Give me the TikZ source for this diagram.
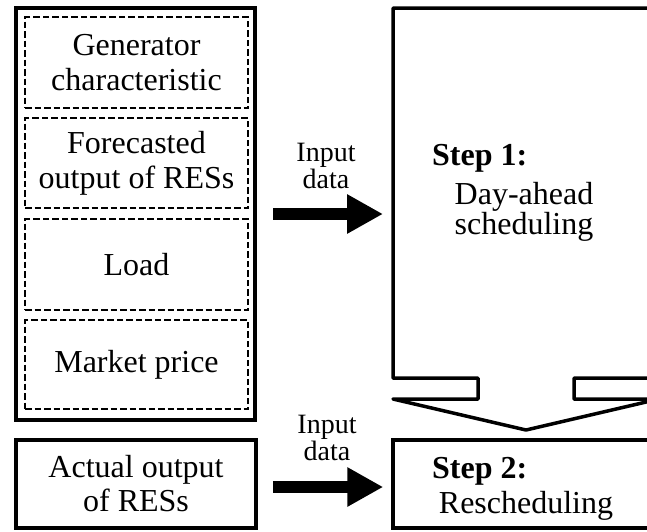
\documentclass[tikz,border=0pt]{standalone}
\usepackage{fontspec}
\setmainfont{Liberation Serif}
\usepackage{tikz}
\usetikzlibrary{arrows.meta}

\begin{document}
\begin{tikzpicture}[x=1pt,y=-1pt,
    solidbox/.style={draw,line width=3.5pt,inner sep=0pt},
    dashbox/.style={draw,line width=2.3pt,dash pattern=on 6.5pt off 3pt,minimum width=223pt,
      inner sep=0pt,align=center,font=\fontsize{32}{35}\selectfont},
    bigarrow/.style={line width=12pt,-{Triangle[width=37pt,length=36pt]}},
    inputlabel/.style={align=center,inner sep=0pt,font=\fontsize{28}{23}\selectfont},
    maintext/.style={inner sep=0pt,font=\fontsize{32}{34}\selectfont}]
  \useasboundingbox (0,0) rectangle (647,531);
  \clip (0,0) rectangle (647,531);
  % input data of the day-ahead stage
  \node[solidbox,line width=4pt,minimum width=239pt,minimum height=412pt] (inputs) at (135.5,214) {};
  \node[dashbox,minimum height=91pt] (gen) at (136.5,62.5) {Generator\\characteristic};
  \node[dashbox,minimum height=90pt] (fcst) at (136.5,163) {Forecasted\\output of RESs};
  \node[dashbox,minimum height=91pt] (load) at (136.5,264.5) {Load};
  \node[dashbox,minimum height=89pt] (price) at (136.5,364.5) {Market price};
  % input data of the real-time stage
  \node[solidbox,minimum width=240pt,minimum height=88pt,align=center,
    font=\fontsize{32}{34}\selectfont] (actual) at (136,484) {Actual output\\of RESs};
  % step 1 box with its arrow down
  \draw[line width=3.5pt,line join=round]
    (659,8) -- (393,8) -- (393,378) -- (478,378) -- (478,399) -- (393,399)
    -- (526,430) -- (659,399) -- (574,399) -- (574,378) -- (659,378) -- cycle;
  \coordinate (s1w) at (393,214);
  \node[maintext,anchor=base west,font=\fontsize{32}{34}\selectfont\bfseries] (s1head) at (432,165) {Step 1:};
  \node[maintext,align=center,font=\fontsize{32}{30}\selectfont] (s1body) at (524,211.5) {Day-ahead\\scheduling};
  % step 2 box
  \node[solidbox,minimum width=266pt,minimum height=88pt] (step2) at (526,484) {};
  \node[maintext,anchor=base west,font=\fontsize{32}{34}\selectfont\bfseries] (s2head) at (432,478) {Step 2:};
  \node[maintext,anchor=base] (s2body) at (526,513) {Rescheduling};
  % arrows
  \draw[bigarrow,shorten <=16pt,shorten >=10pt] (inputs.east) -- (s1w);
  \draw[bigarrow,shorten <=15pt,shorten >=8pt] ([yshift=-3pt]actual.east) -- ([yshift=-3pt]step2.west);
  \node[inputlabel] (in1) at (326,166) {Input\\data};
  \node[inputlabel] (in2) at (327,438) {Input\\data};
\end{tikzpicture}
\end{document}
